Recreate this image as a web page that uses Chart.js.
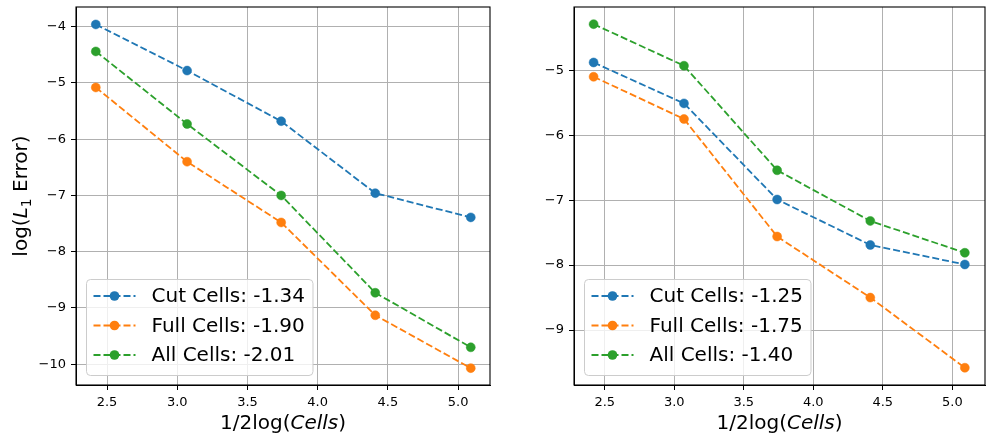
<!DOCTYPE html>
<html>
<head>
<meta charset="utf-8">
<script src="https://cdn.jsdelivr.net/npm/chart.js@4.4.1/dist/chart.umd.min.js"></script>
<style>
  html, body { margin: 0; padding: 0; background: #fff; }
  #wrap { position: relative; width: 990px; height: 438px; }
  canvas { position: absolute; top: 0; }
</style>
</head>
<body>
<div id="wrap">
  <canvas id="leftChart" width="495" height="438" style="left:0"></canvas>
  <canvas id="rightChart" width="495" height="438" style="left:495px"></canvas>
</div>
<script>
// x values (1/2 log(cells)), shared by both panels
const xVals = [2.42, 3.07, 3.74, 4.41, 5.09];

// left panel
const cutLeft = [-3.96, -4.78, -5.68, -6.96, -7.39];
const fullLeft = [-5.08, -6.40, -7.48, -9.13, -10.07];
const allLeft = [-4.44, -5.73, -7.00, -8.73, -9.70];
const labelsLeft = ['Cut Cells: -1.34', 'Full Cells: -1.90', 'All Cells: -2.01'];

// right panel
const cutRight = [-4.88, -5.51, -6.99, -7.69, -7.99];
const fullRight = [-5.10, -5.75, -7.56, -8.50, -9.58];
const allRight = [-4.29, -4.93, -6.54, -7.32, -7.81];
const labelsRight = ['Cut Cells: -1.25', 'Full Cells: -1.75', 'All Cells: -1.40'];

// tick labels
const xTicks = [2.5, 3.0, 3.5, 4.0, 4.5, 5.0];
const yTicksLeft = [-10, -9, -8, -7, -6, -5, -4];
const yTicksRight = [-9, -8, -7, -6, -5];

const colors = ['#1f77b4', '#ff7f0e', '#2ca02c'];
const FONT = '"DejaVu Sans", sans-serif';

function pts(ys) {
    return xVals.map((x, i) => ({ x: x, y: ys[i] }));
}

function makeDatasets(series, labels) {
    return series.map((ys, i) => ({
        label: labels[i],
        data: pts(ys),
        showLine: true,
        borderColor: colors[i],
        backgroundColor: colors[i],
        borderWidth: 1.8,
        borderDash: [7, 3],
        pointRadius: 4.5,
        pointBorderWidth: 0.5,
        pointBackgroundColor: colors[i],
        pointBorderColor: colors[i],
        order: 3 - i,
    }));
}

// draws a string made of pieces, some italic or subscript
function drawPieces(ctx, pieces, size) {
    const widths = pieces.map(p => {
        ctx.font = (p.italic ? 'italic ' : '') + (p.sub ? size * 0.7 : size) + 'px ' + FONT;
        return ctx.measureText(p.text).width;
    });
    const total = widths.reduce((a, b) => a + b, 0);
    let x = -total / 2;
    pieces.forEach((p, i) => {
        ctx.font = (p.italic ? 'italic ' : '') + (p.sub ? size * 0.7 : size) + 'px ' + FONT;
        ctx.fillText(p.text, x, p.sub ? size * 0.22 : 0);
        x += widths[i];
    });
}

const framePlugin = {
    id: 'frameAndTitles',
    afterDraw(chart, args, opts) {
        const ctx = chart.ctx;
        const a = chart.chartArea;
        ctx.save();
        ctx.strokeStyle = '#000';
        ctx.lineWidth = 1.1;
        ctx.strokeRect(a.left, a.top, a.right - a.left, a.bottom - a.top);
        ctx.fillStyle = '#000';
        ctx.textBaseline = 'alphabetic';
        ctx.textAlign = 'center';

        // x tick labels, placed through the x scale
        const xs = chart.scales.x;
        ctx.font = '13px ' + FONT;
        xs.ticks.forEach(t => {
            ctx.fillText(t.value.toFixed(1), xs.getPixelForValue(t.value), a.bottom + 20.5);
        });
        ctx.textAlign = 'left';

        // x title
        ctx.save();
        ctx.translate((a.left + a.right) / 2, 429);
        drawPieces(ctx, [{ text: '1/2log(' }, { text: 'Cells', italic: true }, { text: ')' }], 20);
        ctx.restore();

        if (opts.yTitle) {
            ctx.save();
            ctx.translate(27, (a.top + a.bottom) / 2);
            ctx.rotate(-Math.PI / 2);
            drawPieces(ctx, [{ text: 'log(' }, { text: 'L', italic: true }, { text: '1', sub: true }, { text: ' Error)' }], 20);
            ctx.restore();
        }

        // legend, lower left
        const fs = 20;
        ctx.font = fs + 'px ' + FONT;
        const sets = chart.data.datasets;
        const tw = Math.max(...sets.map(d => ctx.measureText(d.label).width));
        const bx = a.left + 10.5, bh = 96, by = a.bottom - 10 - bh;
        const bw = 65 + tw + 8;
        ctx.beginPath();
        ctx.roundRect(bx, by + 0.5, bw, bh, 4);
        ctx.fillStyle = 'rgba(255,255,255,0.8)';
        ctx.fill();
        ctx.strokeStyle = '#cccccc';
        ctx.lineWidth = 1;
        ctx.stroke();
        sets.forEach((d, i) => {
            const cy = by + 17 + i * 29.5;
            ctx.strokeStyle = d.borderColor;
            ctx.lineWidth = 1.8;
            ctx.setLineDash([7, 3]);
            ctx.beginPath();
            ctx.moveTo(bx + 7, cy);
            ctx.lineTo(bx + 49, cy);
            ctx.stroke();
            ctx.setLineDash([]);
            ctx.fillStyle = d.borderColor;
            ctx.beginPath();
            ctx.arc(bx + 28, cy, 4.8, 0, Math.PI * 2);
            ctx.fill();
            ctx.fillStyle = '#000';
            ctx.textBaseline = 'middle';
            ctx.font = fs + 'px ' + FONT;
            ctx.fillText(d.label, bx + 65, cy + 1);
        });
        ctx.restore();
    }
};

function zeroPad(s) {
    s.paddingTop = 0;
    s.paddingBottom = 0;
    s.paddingLeft = 0;
    s.paddingRight = 0;
}

function makeChart(id, series, labels, xRange, yRange, yTicks, yWidth, rightPad, yTitle) {
    return new Chart(document.getElementById(id), {
        type: 'scatter',
        data: { datasets: makeDatasets(series, labels) },
        plugins: [framePlugin],
        options: {
            responsive: false,
            animation: false,
            layout: { padding: { left: 0, top: 7, right: rightPad, bottom: 0 } },
            plugins: {
                legend: { display: false },
                tooltip: { enabled: false },
                frameAndTitles: { yTitle: yTitle },
            },
            scales: {
                x: {
                    type: 'linear',
                    min: xRange[0],
                    max: xRange[1],
                    afterBuildTicks: s => { s.ticks = xTicks.map(v => ({ value: v })); },
                    afterFit: s => { s.height = 53; zeroPad(s); },
                    grid: { color: '#b0b0b0', lineWidth: 1, tickColor: '#000', tickLength: 5 },
                    border: { display: true, color: '#000', width: 1 },
                    ticks: { display: false },
                },
                y: {
                    type: 'linear',
                    min: yRange[0],
                    max: yRange[1],
                    afterBuildTicks: s => { s.ticks = yTicks.map(v => ({ value: v })); },
                    afterFit: s => { s.width = yWidth; zeroPad(s); },
                    grid: { color: '#b0b0b0', lineWidth: 1, tickColor: '#000', tickLength: 5 },
                    border: { display: true, color: '#000', width: 1 },
                    ticks: {
                        color: '#000',
                        padding: 5,
                        font: { family: FONT, size: 13 },
                        callback: v => '\u2212' + Math.abs(v),
                    },
                },
            },
        },
    });
}

makeChart('leftChart', [cutLeft, fullLeft, allLeft], labelsLeft,
    [2.279, 5.227], [-10.37, -3.65], yTicksLeft, 76, 4, true);
makeChart('rightChart', [cutRight, fullRight, allRight], labelsRight,
    [2.279, 5.235], [-9.846, -4.026], yTicksRight, 79, 1, false);
</script>
</body>
</html>
